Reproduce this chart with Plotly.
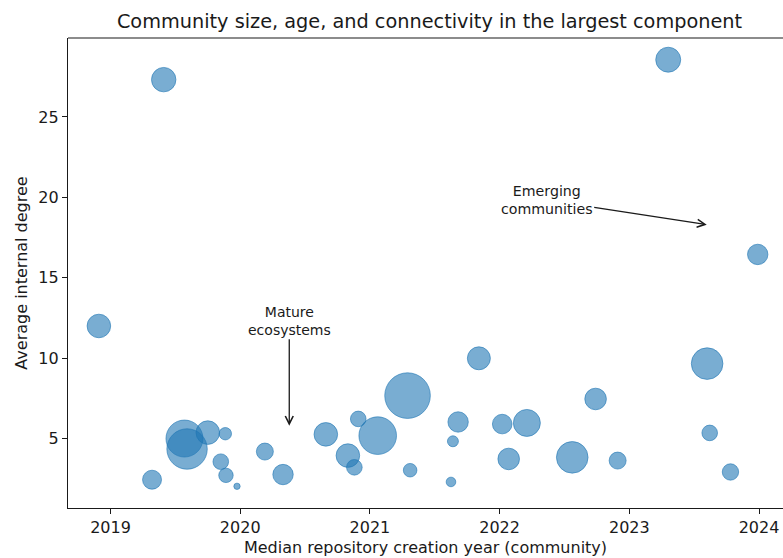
import plotly.graph_objects as go

# Median repository creation year (community)
median_year = [2019.41, 2023.30, 2018.91, 2023.99, 2021.84, 2023.60, 2021.29, 2022.74,
               2022.21, 2022.02, 2021.68, 2020.91, 2021.06, 2020.66, 2019.57, 2019.59,
               2019.75, 2019.885, 2019.85, 2019.89, 2019.975, 2019.32, 2020.19, 2020.33,
               2020.83, 2020.88, 2021.31, 2021.64, 2021.625, 2022.07, 2022.56, 2022.91,
               2023.62, 2023.78]
# Average internal degree
avg_degree = [27.32, 28.56, 12.0, 16.45, 9.99, 9.66, 7.67, 7.46,
              5.97, 5.90, 6.03, 6.22, 5.18, 5.26, 5.00, 4.35,
              5.37, 5.30, 3.56, 2.71, 2.03, 2.44, 4.19, 2.76,
              3.94, 3.21, 3.03, 4.83, 2.30, 3.73, 3.83, 3.63,
              5.35, 2.92]
# Community size (members)
community_size = [298, 312, 278, 208, 264, 499, 1040, 233,
                  364, 192, 208, 122, 707, 278, 684, 816,
                  278, 77, 122, 104, 20, 180, 144, 208,
                  278, 122, 92, 60, 46, 233, 499, 144,
                  122, 134]

x_ticks = [2019, 2020, 2021, 2022, 2023, 2024]
x_tick_labels = ["2019", "2020", "2021", "2022", "2023", "2024"]
y_ticks = [5, 10, 15, 20, 25]
y_tick_labels = ["5", "10", "15", "20", "25"]

title = "Community size, age, and connectivity in the largest component"
x_title = "Median repository creation year (community)"
y_title = "Average internal degree"

FONT = "DejaVu Sans"
TXT = "#1a1a1a"

fig = go.Figure()
fig.add_trace(go.Scatter(
    x=median_year, y=avg_degree, mode="markers",
    marker=dict(size=community_size, sizemode="area", sizeref=1, opacity=1,
                color="rgba(31,119,180,0.6)",
                line=dict(color="rgba(31,119,180,0.6)", width=1)),
    showlegend=False, hoverinfo="skip"))

fig.add_annotation(x=2020.378, y=5.8, ax=2020.378, ay=12.33, xref="x", yref="y",
                   axref="x", ayref="y", text="Mature<br>ecosystems", showarrow=True,
                   arrowhead=5, arrowsize=1.2, arrowwidth=1.3, arrowcolor=TXT, standoff=0,
                   font=dict(family=FONT, size=14, color=TXT), align="center")
fig.add_annotation(x=2023.597, y=18.30, ax=2022.363, ay=19.83, xref="x", yref="y",
                   axref="x", ayref="y", text="Emerging<br>communities", showarrow=True,
                   arrowhead=5, arrowsize=1.2, arrowwidth=1.3, arrowcolor=TXT, standoff=0,
                   font=dict(family=FONT, size=14.2, color=TXT), align="center")

# top spine
fig.add_shape(type="line", xref="paper", yref="paper", x0=0, x1=1, y0=1, y1=1,
              line=dict(color=TXT, width=1.2))

fig.update_layout(
    width=783, height=558,
    margin=dict(l=68, r=0, t=38, b=50),
    paper_bgcolor="white", plot_bgcolor="white",
    font=dict(family=FONT, color=TXT),
    title=dict(text=title, x=429.5 / 783, xref="container", xanchor="center",
               y=1 - 21 / 558, yref="container", yanchor="middle",
               font=dict(family=FONT, size=19.3, color=TXT)),
    xaxis=dict(range=[2018.672, 2024.185], tickvals=x_ticks, ticktext=x_tick_labels,
               showgrid=False, zeroline=False, showline=True, linecolor=TXT, linewidth=1.2,
               ticks="outside", ticklen=5, tickwidth=1.2, tickcolor=TXT,
               tickfont=dict(family=FONT, size=16, color=TXT),
               title=dict(text=x_title, font=dict(family=FONT, size=16, color=TXT), standoff=5)),
    yaxis=dict(range=[0.68, 29.91], tickvals=y_ticks, ticktext=y_tick_labels,
               showgrid=False, zeroline=False, showline=True, linecolor=TXT, linewidth=1.2,
               ticks="outside", ticklen=5, tickwidth=1.2, tickcolor=TXT,
               tickfont=dict(family=FONT, size=16, color=TXT),
               title=dict(text=y_title, font=dict(family=FONT, size=16, color=TXT), standoff=6)),
)

fig.write_html("out.html")
